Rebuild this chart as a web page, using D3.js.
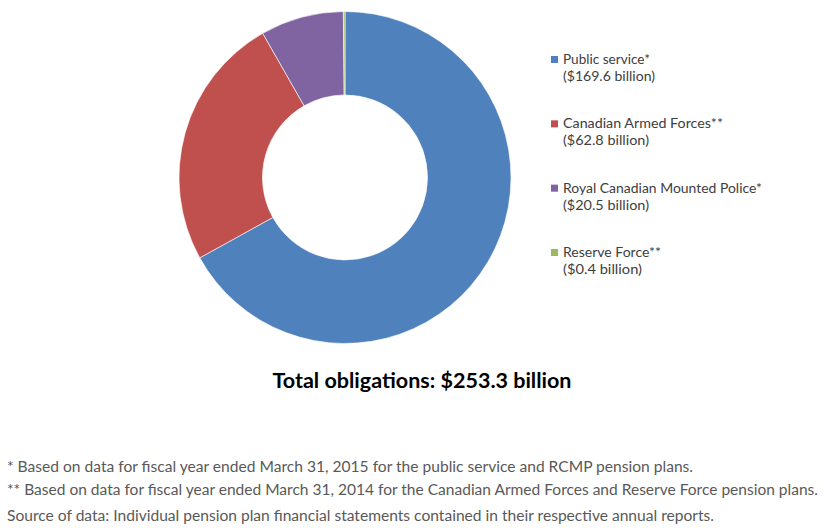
<!DOCTYPE html>
<html><head><meta charset="utf-8">
<script src="https://cdn.jsdelivr.net/npm/d3@7"></script>
<style>body{margin:0;background:#fff}svg{display:block}</style>
</head><body>
<script>
const categories = ["Public service*", "Canadian Armed Forces**", "Royal Canadian Mounted Police*", "Reserve Force**"];
const values = [169.6, 62.8, 20.5, 0.4];
const valueLabels = ["($169.6 billion)", "($62.8 billion)", "($20.5 billion)", "($0.4 billion)"];
const colors = ["#4F81BD", "#C0504D", "#8064A2", "#9BBB59"];
const totalLabel = "Total obligations: $253.3 billion";
const footnotes = [
  "* Based on data for fiscal year ended March 31, 2015 for the public service and RCMP pension plans.",
  "** Based on data for fiscal year ended March 31, 2014 for the Canadian Armed Forces and Reserve Force pension plans.",
  "Source of data: Individual pension plan financial statements contained in their respective annual reports."
];

const W = 837, H = 528;
const svg = d3.select("body").append("svg").attr("width", W).attr("height", H);

const data = categories.map((c, i) => ({cat: c, value: values[i], label: valueLabels[i], color: colors[i]}));
const pie = d3.pie().value(d => d.value).sort(null);
const arc = d3.arc().innerRadius(82.5).outerRadius(166);
const g = svg.append("g").attr("transform", "translate(345,177.5)");
g.selectAll("path").data(pie(data)).join("path")
  .attr("d", arc)
  .attr("fill", d => d.data.color)
  .attr("stroke", "#ffffff").attr("stroke-width", 0.6);

const font = "Lato, 'Open Sans', sans-serif";
const legendY = d3.scaleLinear().domain([0, 3]).range([64, 257]);
const lg = svg.append("g");
const firstLens = [87, 160, 199, 98];
const secondLens = [92, 86, 86, 79];
data.forEach((d, i) => {
  const y = legendY(i);
  lg.append("rect").attr("x", 551).attr("y", y - 8).attr("width", 7).attr("height", 7).attr("fill", d.color);
  lg.append("text").attr("x", 563).attr("y", y).attr("font-family", font).attr("font-size", 12.5)
    .attr("fill", "#404040").attr("textLength", firstLens[i]).attr("lengthAdjust", "spacingAndGlyphs").text(d.cat);
  lg.append("text").attr("x", 563).attr("y", y + 17).attr("font-family", font).attr("font-size", 12.5)
    .attr("fill", "#404040").attr("textLength", secondLens[i]).attr("lengthAdjust", "spacingAndGlyphs").text(d.label);
});

svg.append("text").attr("x", 272.5).attr("y", 388).attr("font-family", font).attr("font-weight", "bold")
  .attr("font-size", 20.5).attr("fill", "#000").attr("textLength", 299).attr("lengthAdjust", "spacingAndGlyphs")
  .text(totalLabel);

const fy = [472, 494.5, 520.5];
const fl = [686, 811, 707];
footnotes.forEach((t, i) => {
  svg.append("text").attr("x", 7).attr("y", fy[i]).attr("font-family", font).attr("font-size", 14.5)
    .attr("fill", "#595959").attr("textLength", fl[i]).attr("lengthAdjust", "spacingAndGlyphs").text(t);
});
</script>
</body></html>
